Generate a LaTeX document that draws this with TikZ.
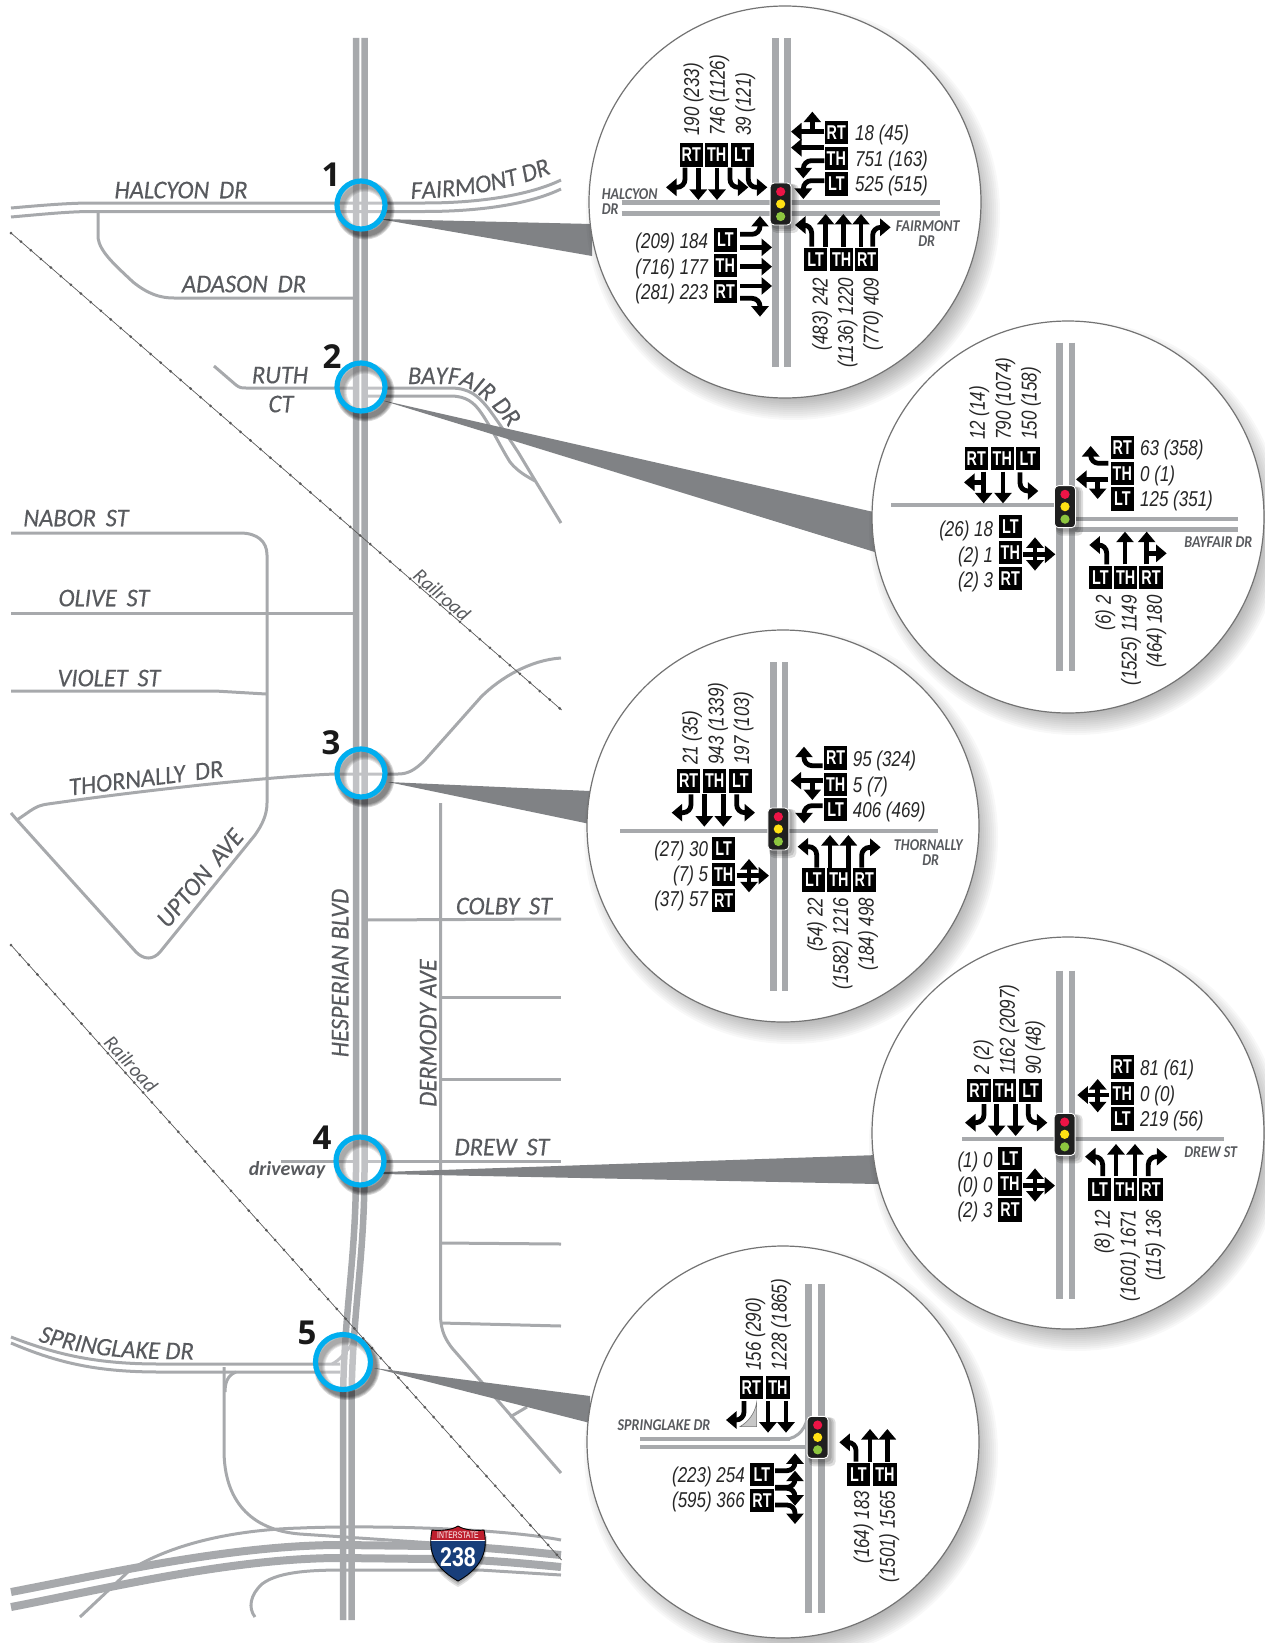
\documentclass[tikz,border=0pt]{standalone}
\usepackage{fontspec}
\setmainfont{Liberation Sans}
\usetikzlibrary{arrows.meta,decorations.text}
\newfontfamily\numf[FakeStretch=0.79]{Liberation Sans}
\newfontfamily\boxf[FakeStretch=0.72]{Liberation Sans}
\newfontfamily\mapf[FakeBold=0.35,FakeStretch=0.96]{Carlito}
\newfontfamily\railf{Carlito}
\newfontfamily\strf[FakeStretch=0.85]{Carlito}
\newfontfamily\blackf{Open Sans}
\definecolor{roadgray}{RGB}{167,169,172}
\definecolor{wedgegray}{RGB}{128,130,133}
\definecolor{labelgray}{RGB}{88,90,94}
\definecolor{ringblue}{RGB}{0,174,239}
\definecolor{shieldred}{RGB}{190,30,45}
\definecolor{shieldblue}{RGB}{24,62,122}
\definecolor{sigred}{RGB}{237,20,70}
\definecolor{sigyellow}{RGB}{255,225,20}
\definecolor{siggreen}{RGB}{141,198,63}
\newcommand{\mapfont}{\mapf\itshape\fontsize{25.5}{25.5}\selectfont\color{labelgray}}
\newcounter{nn}
\tikzset{
  street/.style={draw=roadgray,line width=3pt,line join=round},
  blvd/.style={draw=roadgray,line width=6.5pt},
  iroad/.style={draw=roadgray,line width=8pt},
  vroad/.style={draw=roadgray,line width=6.5pt},
  hroad/.style={draw=roadgray,line width=4.5pt},
  rail/.style={draw=black!65,line width=.7pt},
  raildot/.style={draw=black!65,line width=3pt,line cap=round,dash pattern=on 0pt off 13.2pt},
  wedge/.style={fill=wedgegray},
  ring/.style={circle,draw=ringblue,line width=5.2pt,fill=white,fill opacity=.3,draw opacity=1,minimum size=48pt,inner sep=0},
  detail/.style={circle,draw=black!55,line width=1.2pt,fill=white,minimum size=392pt,inner sep=0},
  maplabel/.style={font=\mapfont,text=labelgray,inner sep=0,text height=16.5pt,text depth=0pt},
  railtext/.style={font=\railf\itshape\fontsize{20}{20}\selectfont,text=labelgray,inner sep=0},
  marknum/.style={font=\blackf\bfseries\fontsize{33}{33}\selectfont,text=black!90,inner sep=0,text height=23.5pt,text depth=0pt},
  lanebox/.style={fill=black,text=white,minimum width=23.4pt,minimum height=23.4pt,inner sep=0,font=\boxf\fontsize{20}{20}\selectfont\bfseries},
  cnt/.style={font=\numf\itshape\fontsize{21.5}{21.5}\selectfont,inner sep=0,text height=15pt,text depth=0pt,text=black!85},
  pstreet/.style={font=\strf\bfseries\itshape\fontsize{16.5}{16.5}\selectfont,text=labelgray,inner sep=0,text height=10.5pt,text depth=0pt},
  ar/.style={draw=black,line width=4.8pt,rounded corners=8pt,-{Triangle[width=17pt,length=10.5pt]}},
  artwo/.style={draw=black,line width=4.8pt,{Triangle[width=17pt,length=10.5pt]}-{Triangle[width=17pt,length=10.5pt]}},
  zoomed/.style={x=.33333pt,y=-.33333pt},
}
\newcommand{\LB}[4]{\node[lanebox] (#1) at (#2,#3) {#4};}
\newcommand{\CW}[3]{\stepcounter{nn}\node[cnt,anchor=west] (t\thenn) at (#1,#2) {#3};}
\newcommand{\CE}[3]{\stepcounter{nn}\node[cnt,anchor=east] (t\thenn) at (#1,#2) {#3};}
\newcommand{\CU}[3]{\stepcounter{nn}\node[cnt,rotate=90,anchor=west] (t\thenn) at (#1,#2) {#3};}
\newcommand{\CD}[3]{\stepcounter{nn}\node[cnt,rotate=90,anchor=east] (t\thenn) at (#1,#2) {#3};}
\newcommand{\PS}[3]{\stepcounter{nn}\node[pstreet] (t\thenn) at (#1,#2) {#3};}
\newcommand{\dshadow}[2]{\foreach \i in {0,...,13}{\fill[black,opacity=.028] ({#1+8},{#2+11}) circle [radius={(207-2*\i)*1pt}];}}
\newcommand{\mshadow}[3]{\foreach \w in {11,9,7,5}{\draw[black,opacity=.15,line width=\w pt] ({#1+4},{#2+5}) circle [radius=#3pt];}}
\newcommand{\sig}[2]{%
  \begin{scope}[shift={(#1,#2)},x=1pt,y=-1pt]
    \foreach \o in {7,5,3}{\fill[black,opacity=.13,rounded corners=5pt] (-11+2,-22+2) rectangle (11+\o,22+\o);}
    \draw[white,fill=black!88,line width=.9pt,rounded corners=4pt] (-10.5,-21) rectangle (10.5,21);
    \fill[sigred] (0,-12.3) circle [radius=4.6pt];
    \fill[sigyellow] (0,0) circle [radius=4.6pt];
    \fill[siggreen] (0,12.5) circle [radius=4.6pt];
  \end{scope}}
\begin{document}
\begin{tikzpicture}[x=1pt,y=-1pt]
\useasboundingbox (0,0) rectangle (1265,1643);
% ---------- streets
\draw[street] (11,208) .. controls (45,205) and (70,203) .. (92,203) -- (425,203) .. controls (480,203) and (530,195) .. (561,180);
\draw[street] (11,217) .. controls (45,214) and (70,211.5) .. (92,211.5) -- (425,211.5) .. controls (480,211.5) and (530,204) .. (561,189);
\draw[street] (98,212) -- (98,238) .. controls (100,252) and (115,265) .. (133,282) .. controls (148,294) and (160,298) .. (174,298) -- (353,298);
\draw[street] (214,366) -- (236,385) .. controls (240,388) and (242,388) .. (246,388) -- (353,388);
\draw[street] (366,388) -- (450,388) .. controls (470,388) and (478,396) .. (488,408) .. controls (500,424) and (510,440) .. (518,452) -- (536,482) -- (561,523);
\draw[street] (366,396) -- (450,396) .. controls (466,396) and (474,402) .. (482,414) .. controls (494,432) and (500,446) .. (510,462) .. controls (518,472) and (528,477) .. (535,481);
\draw[street] (11,533) -- (240,533) .. controls (258,533) and (267,542) .. (267,555) -- (267,803) .. controls (267,815) and (262,825) .. (255,835) -- (160,952) .. controls (153,960) and (144,960) .. (136,952) -- (17,820) -- (11,813);
\draw[street] (11,613) -- (353,613);
\draw[street] (11,691) -- (215,691) -- (266,694);
\draw[street] (17,820) -- (30,811) .. controls (36,807) and (40,805) .. (48,804) .. controls (160,788) and (280,776) .. (335,774) -- (398,774) .. controls (408,774) and (415,770) .. (425,760) -- (481,697) .. controls (500,678) and (530,660) .. (561,658);
\draw[street] (440.5,803) -- (440.5,1316) .. controls (441,1332) and (446,1340) .. (452,1348) -- (561,1473);
\draw[street] (366,920) -- (561,919);
\draw[street] (441,997) -- (561,997);
\draw[street] (441,1079) -- (561,1079);
\draw[street] (368,1161) -- (561,1161);
\draw[street] (281,1161) -- (353,1161);
\draw[street] (441,1243) -- (561,1244);
\draw[street] (441,1323) -- (561,1326);
\draw[street] (510,1417) -- (527,1407);
% Springlake and ramps
\draw[street] (11,1337) .. controls (60,1356) and (100,1364) .. (160,1364) -- (340,1364);
\draw[street] (11,1343) .. controls (60,1364) and (100,1372) .. (160,1372) -- (340,1372);
\draw[street] (224,1367) -- (224,1450) .. controls (224,1500) and (250,1530) .. (300,1534) -- (433,1543);
\draw[street] (225,1392) .. controls (225,1382) and (228,1375) .. (236,1372);
\draw[street] (352,1344) .. controls (346,1352) and (340,1360) .. (332,1364);
\draw[street] (80,1617) -- (130,1570) .. controls (170,1545) and (230,1530) .. (300,1528) .. controls (370,1525) and (500,1528) .. (561,1540);
\draw[street] (255,1617) .. controls (248,1608) and (250,1595) .. (262,1584) .. controls (280,1570) and (320,1570) .. (350,1570) -- (480,1570) -- (561,1575);
% Interstate
\draw[iroad] (11,1592) .. controls (100,1575) and (230,1545) .. (340,1545) -- (433,1546) .. controls (480,1546) and (530,1552) .. (561,1555);
\draw[iroad] (11,1607) .. controls (100,1590) and (230,1558) .. (340,1558) -- (433,1559) .. controls (480,1559) and (530,1564) .. (561,1567);
% Hesperian
\draw[blvd] (356,38) -- (356,1170) .. controls (356,1260) and (344,1310) .. (343,1400) -- (343,1620);
\draw[blvd] (364.5,38) -- (364.5,1170) .. controls (364.5,1260) and (352.5,1310) .. (351.5,1400) -- (351.5,1620);
% railroads
\draw[rail] (11,233) -- (561.6,710);
\draw[raildot] (11,233) -- (561.6,710);
\draw[rail] (11,945) -- (561.6,1560);
\draw[raildot] (11,945) -- (561.6,1560);
% wedges
\fill[wedge] (379,219) -- (592,224) -- (592,256) -- cycle;
\fill[wedge] (381,400) -- (878,513) -- (878,553) -- cycle;
\fill[wedge] (388,782) -- (590,791) -- (590,824) -- cycle;
\fill[wedge] (383,1172) -- (878,1155) -- (878,1184) -- (383,1174) -- cycle;
\fill[wedge] (374,1368) -- (590,1396) -- (590,1423) -- cycle;
% markers
\mshadow{361}{205}{24}
\mshadow{361}{387}{24}
\mshadow{361}{773}{24}
\mshadow{360}{1161}{24}
\mshadow{343}{1362}{27.5}
\node[ring] (m1) at (361,205) {};
\node[ring] (m2) at (361,387) {};
\node[ring] (m3) at (361,773) {};
\node[ring] (m4) at (360,1161) {};
\node[ring,minimum size=55pt] (m5) at (343,1362) {};
\node[marknum] (n1) at (331,175) {1};
\node[marknum] (n2) at (332,357) {2};
\node[marknum] (n3) at (331,743) {3};
\node[marknum] (n4) at (322,1138) {4};
\node[marknum] (n5) at (307,1333) {5};
% map labels
\node[maplabel] (l1) at (181,190) {HALCYON\, DR};
\path[decorate,decoration={text along path,text align={left indent=0pt},text={|\mapfont|FAIRMONT DR}}] (411,199) .. controls (470,197) and (515,190) .. (575,164);
\node[maplabel] (l2) at (244,284) {ADASON\, DR};
\node[maplabel] (l3) at (280,375) {RUTH};
\node[maplabel] (l4) at (281,404) {CT};
\path[decorate,decoration={text along path,text align={left indent=0pt},text={|\mapfont|BAYFAIR DR}}] (408,384) -- (450,384) .. controls (468,385) and (485,394) .. (512,432) -- (540,475);
\node[maplabel] (l5) at (76,518) {NABOR\, ST};
\node[maplabel] (l6) at (104,598) {OLIVE\, ST};
\node[maplabel] (l7) at (109,678) {VIOLET\, ST};
\node[maplabel,rotate=7] (l8) at (146,778) {THORNALLY\, DR};
\node[maplabel,rotate=50] (l9) at (200,878) {UPTON\, AVE};
\node[railtext,rotate=-41] (l10) at (442,595) {Railroad};
\node[railtext,rotate=-47] (l11) at (131,1064) {Railroad};
\node[maplabel,rotate=90] (l12) at (340,973) {HESPERIAN BLVD};
\node[maplabel,rotate=90] (l13) at (428,1033) {DERMODY AVE};
\node[maplabel] (l14) at (504,906) {COLBY\, ST};
\node[maplabel] (l15) at (502,1147) {DREW\, ST};
\node[font=\railf\itshape\bfseries\fontsize{20}{20}\selectfont,text=labelgray,inner sep=0] (l16) at (287,1170) {driveway};
\path[decorate,decoration={text along path,text align={left indent=0pt},text={|\mapfont|SPRINGLAKE DR}}] (38,1341) .. controls (70,1352) and (110,1358) .. (160,1359) -- (225,1360);
% shield
\foreach \o in {6,4,2}{\fill[black,opacity=.12] (432+2,1530+\o) .. controls (440,1531+\o) and (452,1530+\o) .. (458,1526+\o) .. controls (464,1530+\o) and (476,1531+\o) .. (484+\o/2,1530+\o) .. controls (487,1545+\o) and (487,1565+\o) .. (458,1581+\o) .. controls (429,1565+\o) and (429,1545+\o) .. (432,1530+\o) -- cycle;}
\begin{scope}
\path[clip] (432,1530) .. controls (440,1531) and (452,1530) .. (458,1526) .. controls (464,1530) and (476,1531) .. (484,1530) .. controls (487,1545) and (487,1565) .. (458,1581) .. controls (429,1565) and (429,1545) .. (432,1530) -- cycle;
\fill[shieldred] (425,1520) rectangle (490,1540);
\fill[shieldblue] (425,1541) rectangle (490,1590);
\fill[white] (425,1540) rectangle (490,1541);
\end{scope}
\draw[black,line width=.9pt] (432,1530) .. controls (440,1531) and (452,1530) .. (458,1526) .. controls (464,1530) and (476,1531) .. (484,1530) .. controls (487,1545) and (487,1565) .. (458,1581) .. controls (429,1565) and (429,1545) .. (432,1530) -- cycle;
\node[inner sep=0,text=white,font=\boxf\fontsize{9.5}{9.5}\selectfont] (s1) at (458,1535) {INTERSTATE};
\node[inner sep=0,text=white,font=\numf\bfseries\fontsize{27}{27}\selectfont] (s2) at (458,1557) {238};
% ---------- panel 1
\dshadow{785}{202}
\node[detail] (d1) at (785,202) {};
\begin{scope}[shift={(580,0)},zoomed]
\draw[vroad] (586,115) -- (586,1100);
\draw[vroad] (622,115) -- (622,1100);
\draw[hroad] (125,608) -- (1080,608);
\draw[hroad] (125,640) -- (1080,640);
\sig{602}{612}
\draw[ar] (315,503) |- (258,562);
\draw[ar] (355,503) -- (355,600);
\draw[ar] (411,503) -- (411,600);
\draw[ar] (450,503) |- (505,562);
\draw[ar] (505,503) |- (562,562);
\draw[ar] (733,395) -- (633,395);
\draw[ar] (697,395) -- (697,335);
\draw[ar] (733,443) -- (633,443);
\draw[ar] (733,482) -| (670,535);
\draw[ar] (733,542) -| (670,597);
\draw[ar] (480,703) -| (540,648);
\draw[ar] (480,742) -- (576,742);
\draw[ar] (480,800) -- (576,800);
\draw[ar] (480,858) -- (576,858);
\draw[ar] (480,895) -| (540,950);
\draw[ar] (695,740) |- (645,675);
\draw[ar] (737,740) -- (737,642);
\draw[ar] (790,740) -- (790,642);
\draw[ar] (843,740) -- (843,642);
\draw[ar] (878,740) |- (932,682);
\LB{a1}{334}{465}{RT}\LB{a2}{410}{465}{TH}\LB{a3}{487}{465}{LT}
\LB{a4}{769}{397}{RT}\LB{a5}{769}{475}{TH}\LB{a6}{769}{552}{LT}
\LB{a7}{436}{720}{LT}\LB{a8}{436}{797}{TH}\LB{a9}{436}{875}{RT}
\LB{a10}{707}{778}{LT}\LB{a11}{785}{778}{TH}\LB{a12}{860}{778}{RT}
\CU{335}{408}{190 (233)}\CU{412}{408}{746 (1126)}\CU{490}{408}{39 (121)}
\CW{825}{400}{18 (45)}\CW{825}{477}{751 (163)}\CW{825}{553}{525 (515)}
\CE{385}{723}{(209) 184}\CE{385}{800}{(716) 177}\CE{385}{876}{(281) 223}
\CD{720}{832}{(483) 242}\CD{797}{832}{(1136) 1220}\CD{873}{832}{(770) 409}
\node[pstreet,anchor=west] (a13) at (65,582) {HALCYON};
\node[pstreet,anchor=west] (a14) at (65,627) {DR};
\PS{1043}{680}{FAIRMONT}\PS{1040}{725}{DR}
\end{scope}
% ---------- panel 2
\dshadow{1068}{517}
\node[detail] (d2) at (1068,517) {};
\begin{scope}[shift={(860,320)},zoomed]
\draw[vroad] (598,68) -- (598,1054);
\draw[vroad] (636,68) -- (636,1054);
\draw[hroad] (93,555) -- (590,555);
\draw[hroad] (640,597) -- (1135,597);
\draw[hroad] (640,628) -- (1135,628);
\sig{615}{560}
\draw[ar] (371,455) -- (371,550);
\draw[ar] (371,487) -- (312,487);
\draw[ar] (429,455) -- (429,550);
\draw[ar] (480,457) |- (535,513);
\draw[ar] (745,430) -| (692,378);
\draw[ar] (745,478) -- (648,478);
\draw[ar] (713,478) -- (713,537);
\draw[ar] (490,703) -- (586,703);
\draw[artwo] (525,652) -- (525,752);
\draw[ar] (740,733) |- (688,675);
\draw[ar] (795,733) -- (795,635);
\draw[ar] (860,733) -- (860,635);
\draw[ar] (860,700) -- (920,700);
\LB{b1}{349}{416}{RT}\LB{b2}{427}{416}{TH}\LB{b3}{504}{416}{LT}
\LB{b4}{787}{383}{RT}\LB{b5}{787}{461}{TH}\LB{b6}{787}{537}{LT}
\LB{b7}{451}{620}{LT}\LB{b8}{451}{697}{TH}\LB{b9}{451}{775}{RT}
\LB{b10}{721}{772}{LT}\LB{b11}{797}{772}{TH}\LB{b12}{873}{772}{RT}
\CU{352}{360}{12 (14)}\CU{430}{360}{790 (1074)}\CU{507}{360}{150 (158)}
\CW{840}{385}{63 (358)}\CW{840}{462}{0 (1)}\CW{840}{538}{125 (351)}
\CE{400}{628}{(26) 18}\CE{400}{705}{(2) 1}\CE{400}{780}{(2) 3}
\CD{730}{825}{(6) 2}\CD{807}{825}{(1525) 1149}\CD{883}{825}{(464) 180}
\PS{1075}{667}{BAYFAIR DR}
\end{scope}
% ---------- panel 3
\dshadow{783}{826}
\node[detail] (d3) at (783,826) {};
\begin{scope}[shift={(580,620)},zoomed]
\draw[vroad] (580,127) -- (580,1112);
\draw[vroad] (615,127) -- (615,1112);
\draw[hroad] (120,633) -- (1073,633);
\sig{595}{627}
\draw[ar] (333,523) |- (275,578);
\draw[ar] (373,523) -- (373,620);
\draw[ar] (430,523) -- (430,620);
\draw[ar] (470,523) |- (525,578);
\draw[ar] (728,437) -| (672,380);
\draw[ar] (728,482) -- (632,482);
\draw[ar] (697,482) -- (697,540);
\draw[ar] (728,557) -| (672,610);
\draw[ar] (470,767) -- (567,767);
\draw[artwo] (507,717) -- (507,817);
\draw[ar] (710,743) |- (653,680);
\draw[ar] (750,743) -- (750,645);
\draw[ar] (805,743) -- (805,645);
\draw[ar] (845,743) |- (902,682);
\LB{c1}{326}{483}{RT}\LB{c2}{404}{483}{TH}\LB{c3}{481}{483}{LT}
\LB{c4}{767}{414}{RT}\LB{c5}{767}{493}{TH}\LB{c6}{767}{569}{LT}
\LB{c7}{431}{686}{LT}\LB{c8}{431}{764}{TH}\LB{c9}{431}{842}{RT}
\LB{c10}{700}{780}{LT}\LB{c11}{777}{780}{TH}\LB{c12}{853}{780}{RT}
\CU{330}{435}{21 (35)}\CU{408}{435}{943 (1339)}\CU{485}{435}{197 (103)}
\CW{818}{417}{95 (324)}\CW{818}{494}{5 (7)}\CW{818}{570}{406 (469)}
\CE{385}{688}{(27) 30}\CE{385}{763}{(7) 5}\CE{385}{838}{(37) 57}
\CD{705}{833}{(54) 22}\CD{782}{833}{(1582) 1216}\CD{858}{833}{(184) 498}
\PS{1045}{675}{THORNALLY}\PS{1052}{720}{DR}
\end{scope}
% ---------- panel 4
\dshadow{1068}{1133}
\node[detail] (d4) at (1068,1133) {};
\begin{scope}[shift={(860,930)},zoomed]
\draw[vroad] (598,122) -- (598,1107);
\draw[vroad] (636,122) -- (636,1107);
\draw[hroad] (307,627) -- (1093,627);
\sig{614}{613}
\draw[ar] (372,522) |- (315,578);
\draw[ar] (410,522) -- (410,618);
\draw[ar] (467,522) -- (467,618);
\draw[ar] (505,522) |- (562,578);
\draw[ar] (748,495) -- (652,495);
\draw[artwo] (713,447) -- (713,547);
\draw[ar] (488,767) -- (585,767);
\draw[artwo] (525,715) -- (525,815);
\draw[ar] (728,738) |- (675,680);
\draw[ar] (768,738) -- (768,642);
\draw[ar] (825,738) -- (825,642);
\draw[ar] (865,738) |- (922,680);
\LB{e1}{357}{481}{RT}\LB{e2}{434}{481}{TH}\LB{e3}{512}{481}{LT}
\LB{e4}{787}{411}{RT}\LB{e5}{787}{490}{TH}\LB{e6}{787}{567}{LT}
\LB{e7}{450}{685}{LT}\LB{e8}{450}{762}{TH}\LB{e9}{450}{840}{RT}
\LB{e10}{719}{778}{LT}\LB{e11}{796}{778}{TH}\LB{e12}{873}{778}{RT}
\CU{365}{435}{2 (2)}\CU{442}{435}{1162 (2097)}\CU{520}{435}{90 (48)}
\CW{840}{414}{81 (61)}\CW{840}{492}{0 (0)}\CW{840}{567}{219 (56)}
\CE{398}{690}{(1) 0}\CE{398}{765}{(0) 0}\CE{398}{840}{(2) 3}
\CD{727}{838}{(8) 12}\CD{804}{838}{(1601) 1671}\CD{880}{838}{(115) 136}
\PS{1052}{668}{DREW ST}
\end{scope}
% ---------- panel 5
\dshadow{783}{1442}
\node[detail] (d5) at (783,1442) {};
\begin{scope}[shift={(580,1240)},zoomed]
\draw[vroad] (686,133) -- (686,1118);
\draw[vroad] (724,133) -- (724,1118);
\draw[hroad] (180,597) -- (630,597);
\draw[hroad] (180,621) -- (690,621);
\draw[draw=roadgray,line width=3pt] (684,520) .. controls (682,560) and (655,597) .. (615,597);
\sig{713}{592}
\fill[black!22,draw=black!55,line width=.6pt] (530,487) -- (530,560) -- (480,560) .. controls (505,545) and (525,520) .. (530,487) -- cycle;
\draw[ar] (492,483) |- (438,540);
\draw[ar] (564,483) -- (564,578);
\draw[ar] (618,483) -- (618,578);
\draw[ar] (585,692) -| (645,640);
\draw[ar] (585,742) -| (645,692);
\draw[ar] (585,745) -| (645,797);
\draw[ar] (585,795) -| (645,852);
\draw[ar] (828,665) |- (778,607);
\draw[ar] (870,665) -- (870,567);
\draw[ar] (922,665) -- (922,567);
\LB{f1}{514}{442}{RT}\LB{f2}{594}{442}{TH}
\LB{f3}{546}{704}{LT}\LB{f4}{546}{782}{RT}
\LB{f5}{835}{704}{LT}\LB{f6}{915}{704}{TH}
\CU{520}{392}{156 (290)}\CU{597}{392}{1228 (1865)}
\CE{495}{705}{(223) 254}\CE{495}{780}{(595) 366}
\CD{845}{752}{(164) 183}\CD{922}{752}{(1501) 1565}
\PS{252}{557}{SPRINGLAKE DR}
\end{scope}
\end{tikzpicture}
\end{document}
